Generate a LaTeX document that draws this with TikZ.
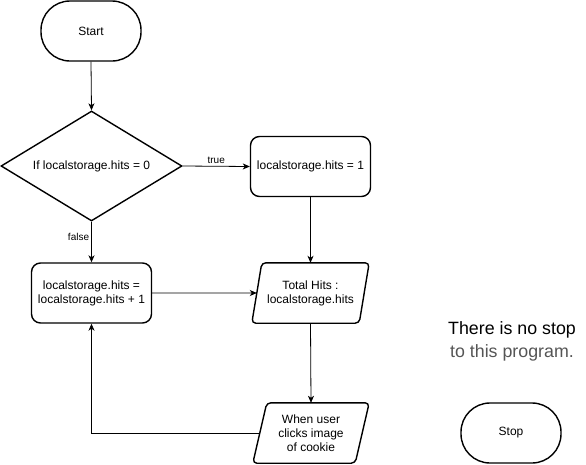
\documentclass[tikz,border=0pt]{standalone}
\usepackage{fontspec}
\setmainfont{Liberation Sans}
\usetikzlibrary{shapes.geometric,arrows.meta,calc}
\definecolor{notegray}{RGB}{85,85,85}
\begin{document}
\begin{tikzpicture}[x=1pt,y=-1pt,
  lbl/.style={font=\fontsize{12}{14}\selectfont, align=center},
  terminal/.style={lbl, draw, line width=1.4pt, rounded corners=29pt,
    minimum width=100pt, minimum height=60pt, inner sep=0pt},
  process/.style={lbl, draw, line width=1.4pt, rounded corners=9pt,
    minimum width=120pt, minimum height=60pt, inner sep=0pt},
  decision/.style={lbl, draw, diamond, line width=1.4pt, aspect=1.64,
    minimum width=181pt, minimum height=110pt, inner sep=0pt},
  iobox/.style={lbl, inner sep=0pt, minimum height=60pt},
  ioline/.style={line width=1.4pt, rounded corners=4pt},
  flow/.style={line width=0.8pt, -{Stealth[length=7pt,width=6pt,inset=2pt]}},
  edgelbl/.style={font=\fontsize{10}{12}\selectfont, inner sep=1pt}
]
\useasboundingbox (0,0) rectangle (586,464);

% nodes
\node[terminal] (start) at (91,31) {Start};
\node[decision] (cond) at (91.5,166) {If localstorage.hits = 0};
\node[process] (init) at (310.5,166.5) {localstorage.hits = 1};
\node[process] (incr) at (91.5,293) {localstorage.hits =\\localstorage.hits + 1};
\node[iobox, minimum width=117pt] (show) at (310.5,293) {Total Hits :\\localstorage.hits};
\node[iobox, minimum width=116pt] (click) at (311,433) {When user\\clicks image\\of cookie};
\node[terminal] (stop) at (511,433) {Stop};

% parallelogram outlines
\draw[ioline] ([xshift=10pt]show.north west) coordinate (s1) -- (show.north east)
  -- ([xshift=-10pt]show.south east) -- (show.south west) coordinate (s4) -- cycle;
\coordinate (showin) at ($(s1)!0.5!(s4)$);
\draw[ioline] ([xshift=14pt]click.north west) coordinate (c1) -- (click.north east)
  -- ([xshift=-14pt]click.south east) -- (click.south west) coordinate (c4) -- cycle;
\coordinate (clickout) at ($(c1)!0.5!(c4)$);

% connectors
\draw[flow] (start.south) -- (cond.north);
\draw[flow] (cond.east) -- node[edgelbl, above=1pt] {true} (init.west);
\draw[flow] (cond.south) -- node[edgelbl, pos=0.38, left=1pt] {false} (incr.north);
\draw[flow] (init.south) -- (show.north);
\draw[flow] (incr.east) -- (showin);
\draw[flow] (show.south) -- (click.north);
\draw[flow] (clickout) -| (incr.south);

% note
\node[font=\fontsize{17.8}{23}\selectfont, align=center] (note) at (512,341)
  {There is no stop\\\textcolor{notegray}{to this program.}};
\end{tikzpicture}
\end{document}
